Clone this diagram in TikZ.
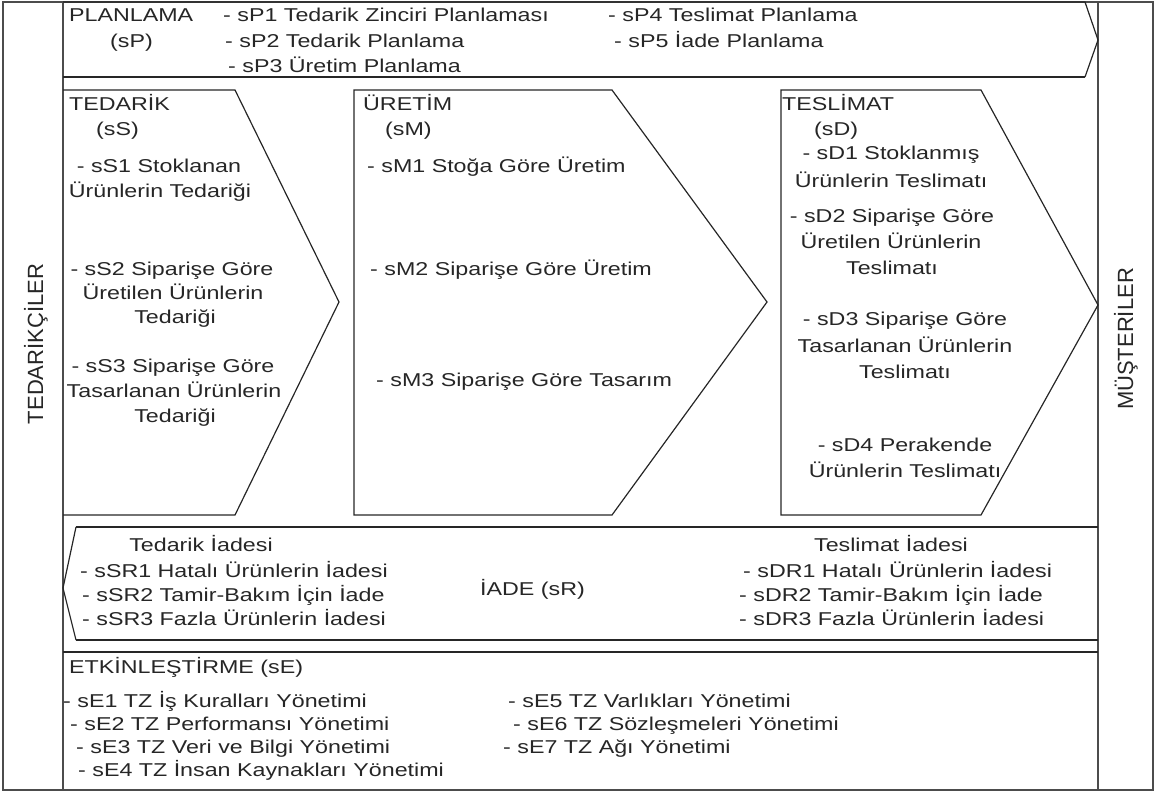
\documentclass[tikz,border=0pt]{standalone}
\usepackage{fontspec}
\setmainfont{Liberation Sans}
\newfontfamily\widef[FakeStretch=1.25]{Liberation Sans}
\begin{document}
\begin{tikzpicture}[x=1pt,y=-1pt,line join=miter,
  frame/.style={draw=black!70,line width=1.4pt},
  shp/.style={draw=black!85,line width=1.2pt},
  thick2/.style={draw=black!85,line width=1.8pt},
  t/.style={font=\widef\fontsize{18.6}{22}\selectfont,inner sep=0pt,text=black!85,anchor=base west},
  tc/.style={t,anchor=base},
  vt/.style={font=\fontsize{22}{26}\selectfont,inner sep=0pt,rotate=90,anchor=base,text=black!85}]
\useasboundingbox (0,0) rectangle (1155,792);
% frame and columns
\draw[frame] (3,2) rectangle (1153,790);
\draw[frame] (63,2) -- (63,790);
\draw[frame] (1098,2) -- (1098,790);
% planlama
\draw[shp] (63,2) -- (1085,2) -- (1098,40) -- (1085,77);
\draw[thick2] (1085,77) -- (63,77);
% tedarik, uretim, teslimat
\draw[shp] (63,90) -- (235,90) -- (339,302) -- (235,515) -- (63,515);
\draw[shp] (354,90) -- (612,90) -- (767,302) -- (612,515) -- (354,515) -- cycle;
\draw[shp] (781,90) -- (981,90) -- (1098,305) -- (981,515) -- (781,515) -- cycle;
% iade
\draw[thick2] (1098,527) -- (76,527);
\draw[shp] (76,527) -- (63,588) -- (76,640);
\draw[thick2] (76,640) -- (1098,640);
% etkinlestirme
\draw[thick2] (63,652) -- (1098,652);

% side labels
\node[vt] (ted) at (43,344) {TEDARİKÇİLER};
\node[vt] (mus) at (1133,339) {MÜŞTERİLER};

% planlama texts
\node[t] (pl1) at (69,22) {PLANLAMA};
\node[t] (pl2) at (110,48) {(sP)};
\node[t] (sp1) at (223,22) {- sP1 Tedarik Zinciri Planlaması};
\node[t] (sp2) at (225,48) {- sP2 Tedarik Planlama};
\node[t] (sp3) at (228,72) {- sP3 Üretim Planlama};
\node[t] (sp4) at (608,22) {- sP4 Teslimat Planlama};
\node[t] (sp5) at (614,48) {- sP5 İade Planlama};

% tedarik
\node[t] (ts1) at (69,110) {TEDARİK};
\node[t] (ts2) at (96,135) {(sS)};
\node[tc] (ss1a) at (159,172) {- sS1 Stoklanan};
\node[tc] (ss1b) at (160,197) {Ürünlerin Tedariği};
\node[tc] (ss2a) at (172,275) {- sS2 Siparişe Göre};
\node[tc] (ss2b) at (173,299) {Üretilen Ürünlerin};
\node[tc] (ss2c) at (175,323) {Tedariği};
\node[tc] (ss3a) at (173,372) {- sS3 Siparişe Göre};
\node[tc] (ss3b) at (174,397) {Tasarlanan Ürünlerin};
\node[tc] (ss3c) at (175,422) {Tedariği};

% uretim
\node[t] (um1) at (363,110) {ÜRETİM};
\node[t] (um2) at (385,135) {(sM)};
\node[t] (sm1) at (367,172) {- sM1 Stoğa Göre Üretim};
\node[t] (sm2) at (370,275) {- sM2 Siparişe Göre Üretim};
\node[t] (sm3) at (376,386) {- sM3 Siparişe Göre Tasarım};

% teslimat
\node[t] (td1) at (782,110) {TESLİMAT};
\node[t] (td2) at (814,135) {(sD)};
\node[tc] (sd1a) at (891,159) {- sD1 Stoklanmış};
\node[tc] (sd1b) at (891,187) {Ürünlerin Teslimatı};
\node[tc] (sd2a) at (892,222) {- sD2 Siparişe Göre};
\node[tc] (sd2b) at (891,248) {Üretilen Ürünlerin};
\node[tc] (sd2c) at (892,274) {Teslimatı};
\node[tc] (sd3a) at (905,325) {- sD3 Siparişe Göre};
\node[tc] (sd3b) at (905,352) {Tasarlanan Ürünlerin};
\node[tc] (sd3c) at (905,378) {Teslimatı};
\node[tc] (sd4a) at (905,451) {- sD4 Perakende};
\node[tc] (sd4b) at (905,477) {Ürünlerin Teslimatı};

% iade
\node[tc] (ti) at (201,551) {Tedarik İadesi};
\node[t] (ssr1) at (80,577) {- sSR1 Hatalı Ürünlerin İadesi};
\node[t] (ssr2) at (82,601) {- sSR2 Tamir-Bakım İçin İade};
\node[t] (ssr3) at (82,625) {- sSR3 Fazla Ürünlerin İadesi};
\node[t] (iade) at (480,595) {İADE (sR)};
\node[tc] (tsi) at (891,551) {Teslimat İadesi};
\node[t] (sdr1) at (743,577) {- sDR1 Hatalı Ürünlerin İadesi};
\node[t] (sdr2) at (739,601) {- sDR2 Tamir-Bakım İçin İade};
\node[t] (sdr3) at (739,625) {- sDR3 Fazla Ürünlerin İadesi};

% etkinlestirme
\node[t] (etk) at (69,673) {ETKİNLEŞTİRME (sE)};
\node[t] (se1) at (63,707) {- sE1 TZ İş Kuralları Yönetimi};
\node[t] (se2) at (70,730) {- sE2 TZ Performansı Yönetimi};
\node[t] (se3) at (76,753) {- sE3 TZ Veri ve Bilgi Yönetimi};
\node[t] (se4) at (78,776) {- sE4 TZ İnsan Kaynakları Yönetimi};
\node[t] (se5) at (508,707) {- sE5 TZ Varlıkları Yönetimi};
\node[t] (se6) at (513,730) {- sE6 TZ Sözleşmeleri Yönetimi};
\node[t] (se7) at (503,753) {- sE7 TZ Ağı Yönetimi};
\end{tikzpicture}
\end{document}
